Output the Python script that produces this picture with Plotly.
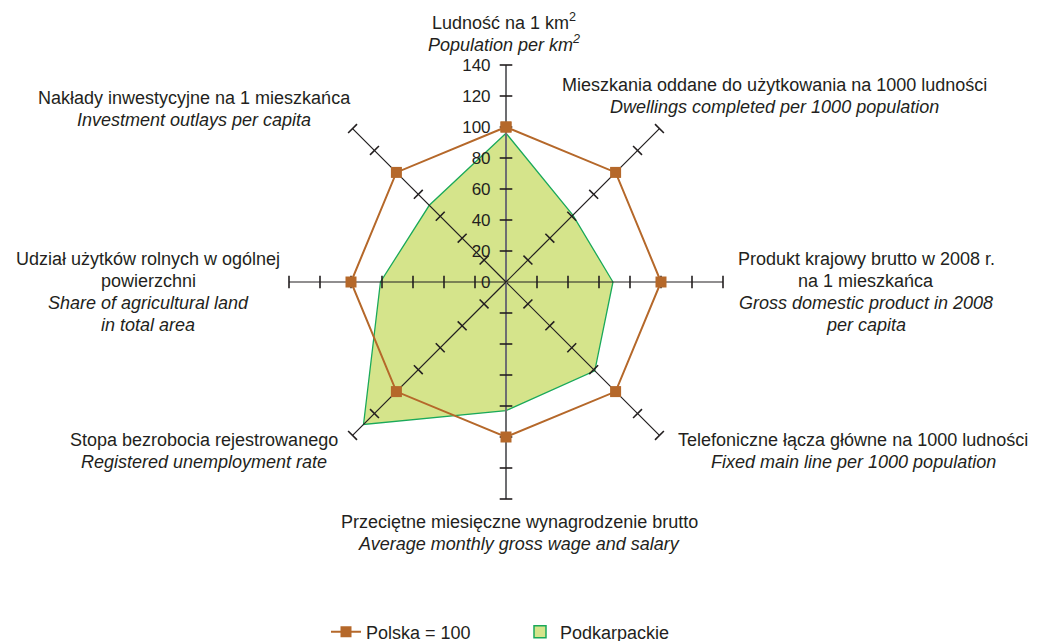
import plotly.graph_objects as go

# axis categories, clockwise from the top
categories = ["Ludność", "Mieszkania", "PKB", "Telefony",
              "Wynagrodzenie", "Bezrobocie", "Użytki rolne", "Nakłady"]
polska = [100, 100, 100, 100, 100, 100, 100, 100]
podkarpackie = [96, 61, 69, 81, 83, 130, 81, 70]
radial_ticks = [0, 20, 40, 60, 80, 100, 120, 140]

# (polish lines, english lines) for each axis
axis_labels = [
    (["Ludność na 1 km<sup>2</sup>"], ["Population per km<sup>2</sup>"]),
    (["Mieszkania oddane do użytkowania na 1000 ludności"],
     ["Dwellings completed per 1000 population"]),
    (["Produkt krajowy brutto w 2008 r.", "na 1 mieszkańca"],
     ["Gross domestic product in 2008", "per capita"]),
    (["Telefoniczne łącza główne na 1000 ludności"],
     ["Fixed main line per 1000 population"]),
    (["Przeciętne miesięczne wynagrodzenie brutto"],
     ["Average monthly gross wage and salary"]),
    (["Stopa bezrobocia rejestrowanego"], ["Registered unemployment rate"]),
    (["Udział użytków rolnych w ogólnej", "powierzchni"],
     ["Share of agricultural land", "in total area"]),
    (["Nakłady inwestycyjne na 1 mieszkańca"], ["Investment outlays per capita"]),
]
# centre x and first line y of each label, in screen pixels
label_pos = [(504, 21), (774, 85), (866, 259), (853, 440),
             (519, 522), (204, 440), (148, 259), (194, 98)]
LINE_STEP = 22

W, H = 1038, 641
OFF = 8  # page body margin of the browser
ML, MT = 100 - OFF, 65 - OFF
PW, PH = 812, 434
MR, MB = W - ML - PW, H - MT - PH
TXT = "#231f20"
FONT = "Liberation Sans, Arial, sans-serif"
LBL = 18


def to_paper(px, py):
    return (px - OFF - ML) / PW, (MT + PH - (py - OFF)) / PH


fig = go.Figure()

fig.add_trace(go.Scatterpolar(
    r=podkarpackie + podkarpackie[:1], theta=categories + categories[:1],
    mode="lines", fill="toself", fillcolor="#d5e48b",
    line=dict(color="#1aa95a", width=1.3),
    name="Podkarpackie", showlegend=False, hoverinfo="skip"))

# spokes with cross ticks
for i, cat in enumerate(categories):
    phi = 90 - 45 * i
    vertical = i in (0, 4)
    fig.add_trace(go.Scatterpolar(
        r=[0, 140], theta=[cat, cat], mode="lines",
        line=dict(color="#6d6e71" if vertical else "#231f20",
                  width=2 if vertical else 1.2),
        showlegend=False, hoverinfo="skip"))
    fig.add_trace(go.Scatterpolar(
        r=radial_ticks[1:], theta=[cat] * 7, mode="markers",
        marker=dict(symbol="line-ns", size=9, angle=-phi,
                    line=dict(color="#231f20", width=1.6)),
        showlegend=False, hoverinfo="skip"))

fig.add_trace(go.Scatterpolar(
    r=polska + polska[:1], theta=categories + categories[:1],
    mode="lines+markers",
    line=dict(color="#b5682a", width=2),
    marker=dict(symbol="square", size=11, color="#b5682a"),
    name="Polska = 100", legendrank=1, hoverinfo="skip"))

# legend swatch for the filled region
fig.add_trace(go.Scatterpolar(
    r=[None], theta=[categories[0]], mode="markers",
    marker=dict(symbol="square", size=12, color="#d5e48b",
                line=dict(color="#1aa95a", width=1.5)),
    name="Podkarpackie", legendrank=2, hoverinfo="skip"))

for (pl, en), (px, py) in zip(axis_labels, label_pos):
    lines = pl + ["<i>%s</i>" % s for s in en]
    for k, line in enumerate(lines):
        x, y = to_paper(px, py + k * LINE_STEP)
        fig.add_annotation(text=line, x=x, y=y, xref="paper", yref="paper",
                           xanchor="center", yanchor="middle", showarrow=False,
                           font=dict(size=LBL, color=TXT, family=FONT))

lx, ly = to_paper(326, 632)
fig.update_layout(
    width=W, height=H,
    margin=dict(l=ML, r=MR, t=MT, b=MB, autoexpand=False),
    paper_bgcolor="white",
    font=dict(family=FONT, size=16, color=TXT),
    polar=dict(
        bgcolor="white",
        angularaxis=dict(type="category", categoryarray=categories,
                         direction="clockwise", rotation=90,
                         showgrid=False, showline=False,
                         showticklabels=False, ticks=""),
        radialaxis=dict(range=[0, 140], angle=90, tickangle=90,
                        side="counterclockwise",
                        tickvals=radial_ticks, showgrid=False,
                        showline=False, ticks="outside", ticklen=9,
                        tickcolor="rgba(0,0,0,0)",
                        tickfont=dict(size=17, color=TXT)),
    ),
    showlegend=True,
    legend=dict(orientation="h", x=lx, y=ly, xanchor="left",
                yanchor="middle", font=dict(size=LBL, color=TXT),
                entrywidth=149, bgcolor="rgba(0,0,0,0)"),
)

fig.write_html("out.html")
